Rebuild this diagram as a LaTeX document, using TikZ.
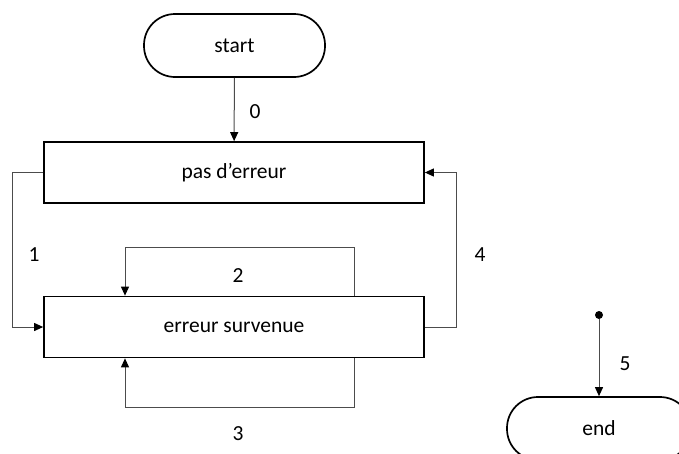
\documentclass[tikz,border=0pt]{standalone}
\usepackage{fontspec}
\setmainfont{Carlito}
\usetikzlibrary{arrows.meta}
\begin{document}
\begin{tikzpicture}[x=1pt,y=-1pt,
  every node/.style={font=\fontsize{21.5}{24}\selectfont},
  term/.style={draw=black,line width=1.7pt,rounded corners=31pt,minimum width=181pt,minimum height=63pt,inner sep=0pt},
  state/.style={draw=black,line width=1.7pt,minimum width=380pt,minimum height=61pt,inner sep=0pt},
  conn/.style={draw=black!70,line width=1pt,-{Triangle[length=9pt,width=8pt,color=black]}},
  lbl/.style={inner sep=0pt}]
\useasboundingbox (0,0) rectangle (679,453);
\node[term] (start) at (234.5,45.5) {start};
\node[state] (pas) at (234,172.5) {pas d’erreur};
\node[state] (err) at (234,327) {erreur survenue};
\node[term,minimum width=184pt] (end) at (599,428.5) {end};
\node[circle,fill=black,inner sep=0pt,minimum size=8pt] (dot) at (599,315) {};
\draw[conn] (start) -- (pas);
\draw[conn] (pas.west) -- ++(-31,0) |- (err.west);
\draw[conn] ([xshift=120pt]err.north) -- ++(0,-48) -| ([xshift=-109pt]err.north);
\draw[conn] ([xshift=120pt]err.south) -- ++(0,49) -| ([xshift=-109pt]err.south);
\draw[conn] (err.east) -- ++(32,0) |- (pas.east);
\draw[conn] (dot) -- (end);
\node[lbl] (l0) at (255,112) {0};
\node[lbl] (l1) at (34,255) {1};
\node[lbl] (l2) at (238,276) {2};
\node[lbl] (l3) at (238,434) {3};
\node[lbl] (l4) at (480,255) {4};
\node[lbl] (l5) at (625,364) {5};
\end{tikzpicture}
\end{document}
